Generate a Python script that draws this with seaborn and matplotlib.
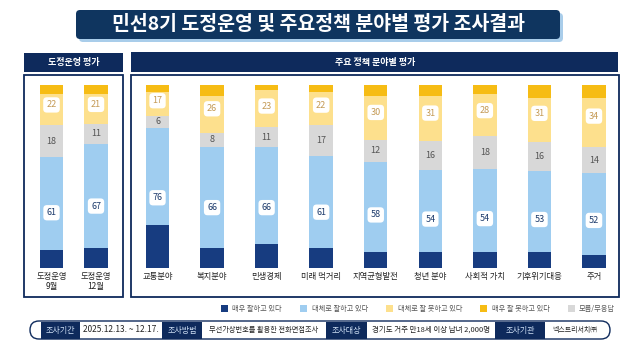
import numpy as np
import pandas as pd
import seaborn as sns
import matplotlib.pyplot as plt
from matplotlib.patches import FancyBboxPatch, Rectangle, Patch

sns.set_theme(style="white")
plt.rcParams["font.family"] = ["Noto Sans CJK KR", "DejaVu Sans"]

# ---- data (percent) ----
gov_cats = ["도정운영\n9월", "도정운영\n12월"]
gov_pos = [61, 67]          # 잘하고 있다 (합)
gov_dk = [18, 11]           # 모름/무응답
gov_neg = [22, 21]          # 잘 못하고 있다 (합)
gov_very_good = [10, 11]
gov_very_bad = [5, 5]

policy_cats = ["교통분야", "복지분야", "민생경제", "미래 먹거리", "지역균형발전",
               "청년 분야", "사회적 가치", "기후위기대응", "주거"]
policy_pos = [76, 66, 66, 61, 58, 54, 54, 53, 52]
policy_dk = [6, 8, 11, 17, 12, 16, 18, 16, 14]
policy_neg = [17, 26, 23, 22, 30, 31, 28, 31, 34]
policy_very_good = [23, 11, 13, 11, 9, 9, 9, 9, 7]
policy_very_bad = [4, 6, 3, 4, 6, 6, 5, 7, 7]

legend_labels = ["매우 잘하고 있다", "대체로 잘하고 있다", "대체로 잘 못하고 있다",
                 "매우 잘 못하고 있다", "모름/무응답"]

info_items = [("조사기간", "2025.12.13. ~ 12.17."),
              ("조사방법", "무선가상번호를 활용한 전화면접조사"),
              ("조사대상", "경기도 거주 만18세 이상 남녀 2,000명"),
              ("조사기관", "넥스트리서치㈜")]

# ---- style ----
C_VGOOD = "#173c80"
C_GOOD = "#9fcdf0"
C_DK = "#d8d8d8"
C_BAD = "#fde08d"
C_VBAD = "#f6bc14"
NAVY = "#0e2a5c"
TITLE_NAVY = "#0f355f"

W, H = 637, 354
fig = plt.figure(figsize=(W / 100, H / 100), dpi=100)
fig.patch.set_facecolor("white")

bg = fig.add_axes([0, 0, 1, 1])
bg.set_xlim(0, W)
bg.set_ylim(H, 0)
bg.axis("off")


def frac(x0, y0, x1, y1):
    return [x0 / W, 1 - y1 / H, (x1 - x0) / W, (y1 - y0) / H]


def rbox(x0, y0, x1, y1, fc, ec="none", lw=0, r=3, z=1):
    bg.add_patch(FancyBboxPatch((x0, y0), x1 - x0, y1 - y0,
                                boxstyle=f"round,pad=0,rounding_size={r}",
                                fc=fc, ec=ec, lw=lw, zorder=z))


# title
rbox(79, 13, 563, 42, "#a9cdea", r=4)
rbox(76, 10, 560, 39, TITLE_NAVY, r=4, z=2)
bg.text(318, 25, "민선8기 도정운영 및 주요정책 분야별 평가 조사결과", ha="center",
        va="center", color="white", fontsize=14, fontweight="bold", zorder=3)

# panel headers and frames
bg.add_patch(Rectangle((24, 53), 99, 19, fc=NAVY, ec="none"))
bg.text(73.5, 62.5, "도정운영 평가", ha="center", va="center", color="white",
        fontsize=6.5, fontweight="bold")
bg.add_patch(Rectangle((24, 75), 99, 222, fc="none", ec=NAVY, lw=1.3))

bg.add_patch(Rectangle((131, 52), 487, 20, fc=NAVY, ec="none"))
bg.text(375, 62, "주요 정책 분야별 평가", ha="center", va="center", color="white",
        fontsize=6.5, fontweight="bold")
bg.add_patch(Rectangle((131, 75), 488, 222, fc="none", ec=NAVY, lw=1.3))


def stacked(ax, cats, pos, dk, neg, vgood, vbad, width):
    pos, dk, neg = np.array(pos), np.array(dk), np.array(neg)
    vgood, vbad = np.array(vgood), np.array(vbad)
    total = pos + dk + neg
    s = 100 / total
    df = pd.DataFrame({
        "cat": cats,
        "c1": vgood * s,
        "c2": pos * s,
        "c3": (pos + dk) * s,
        "c4": (pos + dk + neg - vbad) * s,
        "c5": total * s,
    })
    for col, c in [("c5", C_VBAD), ("c4", C_BAD), ("c3", C_DK),
                   ("c2", C_GOOD), ("c1", C_VGOOD)]:
        sns.barplot(data=df, x="cat", y=col, order=cats, color=c, saturation=1,
                    width=width, errorbar=None, ax=ax, linewidth=0)
    for i in range(len(cats)):
        ax.text(i, df["c2"][i] / 2, f"{pos[i]}", ha="center", va="center",
                fontsize=6.5, color="#1d3b6c", zorder=5,
                bbox=dict(boxstyle="round,pad=0.35,rounding_size=0.4",
                          fc="white", ec="none"))
        ax.text(i, (df["c2"][i] + df["c3"][i]) / 2, f"{dk[i]}", ha="center",
                va="center", fontsize=6.5, color="#555555", zorder=5)
        ax.text(i, (df["c3"][i] + df["c5"][i]) / 2, f"{neg[i]}", ha="center",
                va="center", fontsize=6.5, color="#c49a55", zorder=5,
                bbox=dict(boxstyle="round,pad=0.35,rounding_size=0.4",
                          fc="white", ec="none"))
    ax.set_xlim(-0.5, len(cats) - 0.5)
    ax.set_ylim(0, 100)
    ax.set_xlabel("")
    ax.set_ylabel("")
    ax.set_yticks([])
    ax.tick_params(axis="x", length=0, labelsize=6, pad=3, colors="#222222")
    for lab in ax.get_xticklabels():
        lab.set_linespacing(1.15)
    sns.despine(ax=ax, left=True, bottom=True)
    ax.patch.set_alpha(0)


ax1 = fig.add_axes(frac(29.25, 85, 118.25, 268))
stacked(ax1, gov_cats, gov_pos, gov_dk, gov_neg, gov_very_good, gov_very_bad, 0.52)

ax2 = fig.add_axes(frac(130.25, 85, 621.25, 268))
stacked(ax2, policy_cats, policy_pos, policy_dk, policy_neg,
        policy_very_good, policy_very_bad, 0.43)

# legend
handles = [Patch(fc=c, ec="none") for c in [C_VGOOD, C_GOOD, C_BAD, C_VBAD, C_DK]]
fig.legend(handles, legend_labels, loc="center", bbox_to_anchor=(418 / W, 1 - 309 / H),
           ncol=5, frameon=False, fontsize=5.2, handlelength=1.0, handleheight=1.0,
           handletextpad=0.6, columnspacing=2.5, labelcolor="#555555")

# survey info bar
rbox(30, 321, 610, 339, "white", ec=NAVY, lw=1.0, r=9)
spans = [(41, 80, 162), (162, 202, 326), (326, 367, 495), (495, 545, 604)]
value_sizes = [6.0, 5.2, 5.4, 5.0]
for (k, v), (a, b, c), fs in zip(info_items, spans, value_sizes):
    bg.add_patch(Rectangle((a, 321.5), b - a, 17, fc=NAVY, ec="none", zorder=2))
    bg.text((a + b) / 2, 330, k, ha="center", va="center", color="#cfe0f5",
            fontsize=5.8, zorder=3)
    bg.text((b + c) / 2, 330, v, ha="center", va="center", color="#222222",
            fontsize=fs, zorder=3)

fig.savefig("out.png", dpi=100)
